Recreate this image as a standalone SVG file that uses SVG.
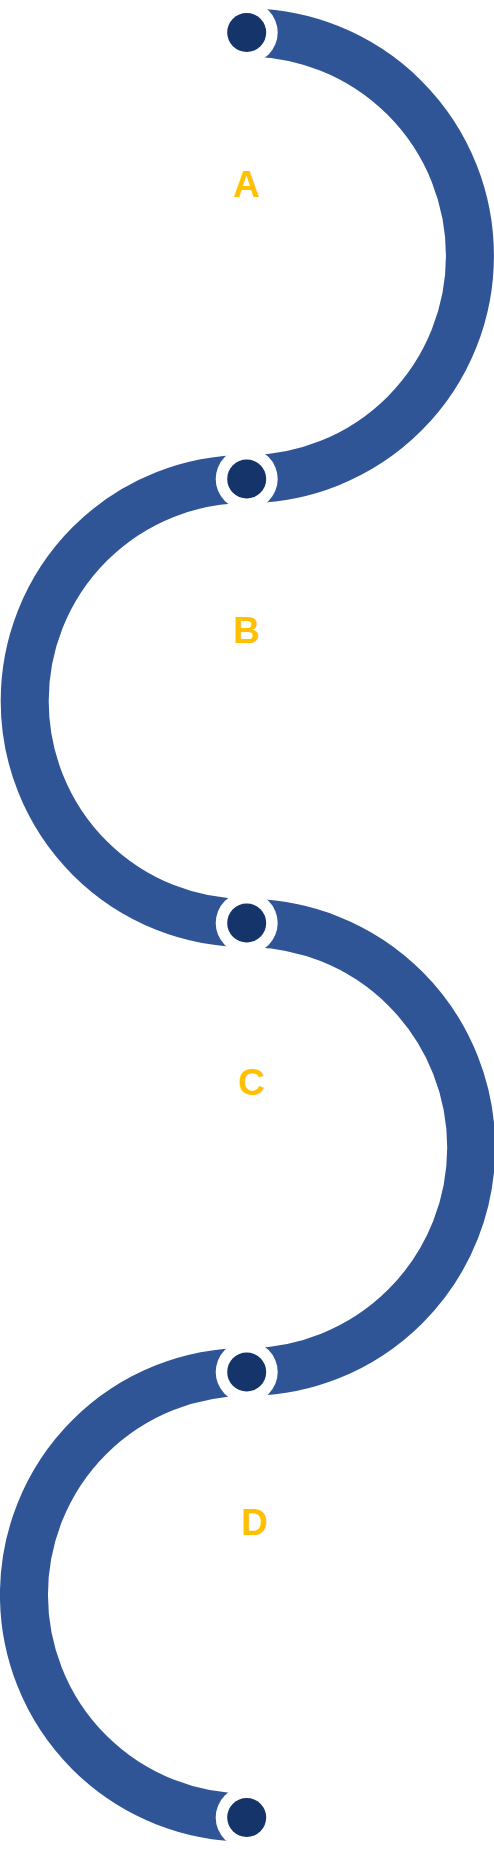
<svg xmlns="http://www.w3.org/2000/svg" width="494" height="1849" viewBox="0 0 494 1849">
<style>
.band{fill:none;stroke:#2F5597;stroke-width:48}
.halo{fill:#FFFFFF}
.dot{fill:#15346A}
.lbl{font-family:"Liberation Sans",Arial,sans-serif;font-weight:bold;font-size:37px;fill:#FFC000;text-anchor:middle}
</style>
<rect width="494" height="1849" fill="#FFFFFF"/>
<g id="connectors">
<path class="band" d="M246.7,32.5 A223.25,223.25 0 0 1 246.7,479"/>
<path class="band" d="M246.7,479 A222,222 0 0 0 246.7,923"/>
<path class="band" d="M246.7,923 A224.5,224.5 0 0 1 246.7,1372"/>
<path class="band" d="M246.7,1372 A222.75,222.75 0 0 0 246.7,1817.5"/>
</g>
<g id="dot1"><circle class="halo" cx="246.7" cy="32.5" r="31"/><circle class="dot" cx="246.7" cy="32.5" r="19.5"/></g>
<g id="dot2"><circle class="halo" cx="246.7" cy="479" r="31"/><circle class="dot" cx="246.7" cy="479" r="19.5"/></g>
<g id="dot3"><circle class="halo" cx="246.7" cy="923" r="31"/><circle class="dot" cx="246.7" cy="923" r="19.5"/></g>
<g id="dot4"><circle class="halo" cx="246.7" cy="1372" r="31"/><circle class="dot" cx="246.7" cy="1372" r="19.5"/></g>
<g id="dot5"><circle class="halo" cx="246.7" cy="1817.5" r="31"/><circle class="dot" cx="246.7" cy="1817.5" r="19.5"/></g>
<g id="labelA"><text class="lbl" x="246.7" y="196.7">A</text></g>
<g id="labelB"><text class="lbl" x="246.7" y="643.3">B</text></g>
<g id="labelC"><text class="lbl" x="251.7" y="1094.5">C</text></g>
<g id="labelD"><text class="lbl" x="254.7" y="1535">D</text></g>
</svg>
